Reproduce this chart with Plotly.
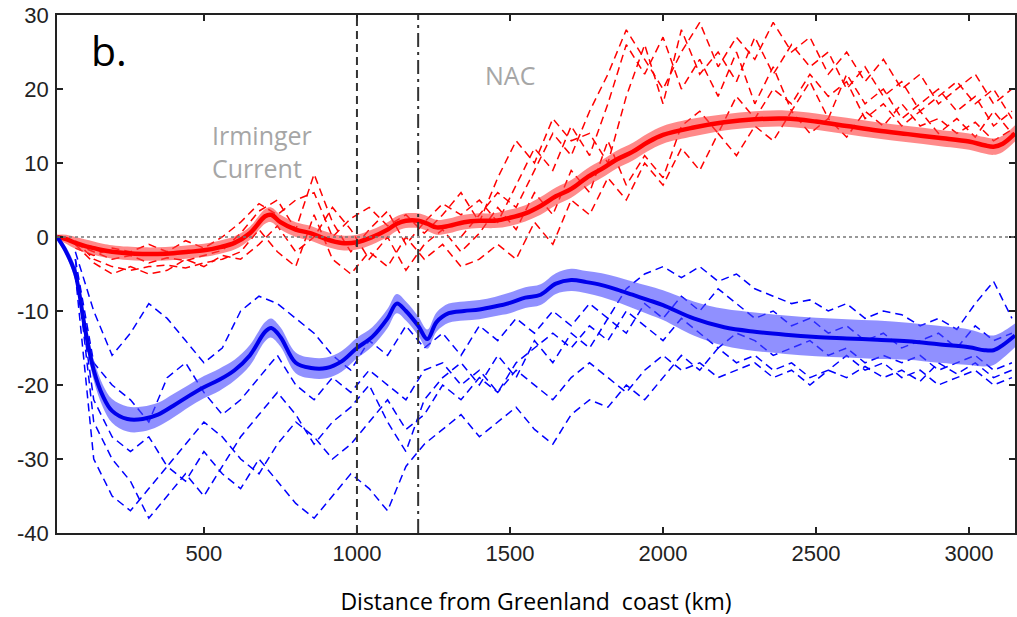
import plotly.graph_objects as go

# ---------------- data ----------------
x_mean = [20, 50, 80, 110, 140, 170, 200, 250, 300, 350, 400, 450, 500, 550, 600, 650, 700, 720, 750,
          800, 850, 900, 950, 1000, 1050, 1100, 1130, 1160, 1200, 1230, 1260, 1300, 1350, 1400, 1450,
          1500, 1550, 1600, 1650, 1700, 1750, 1800, 1850, 1900, 1950, 2000, 2100, 2200, 2300, 2400,
          2500, 2600, 2700, 2800, 2900, 3000, 3050, 3080, 3110, 3150]

red_mean = [0, -0.3, -0.8, -1.2, -1.5, -1.8, -2, -2.2, -2.3, -2.3, -2.2, -2, -1.8, -1.4, -0.8, 0.5,
            2.8, 3, 2, 1, 0.5, -0.3, -0.8, -0.7, 0, 1, 1.8, 2.2, 2.2, 1.8, 1.3, 1.5, 2, 2.2, 2.2,
            2.6, 3.2, 4.2, 5.5, 6.5, 8, 9.2, 10.5, 11.5, 12.8, 13.8, 14.8, 15.5, 15.9, 16,
            15.6, 15, 14.4, 13.9, 13.4, 12.9, 12.4, 12.2, 12.6, 14]
red_err = [0.3, 0.6, 0.8, 0.9, 0.9, 0.9, 0.9, 0.9, 0.9, 0.9, 0.9, 0.9, 0.9, 0.9, 0.9, 0.9,
           1.0, 1.0, 1.0, 1.0, 1.0, 1.0, 1.0, 1.0, 1.0, 1.0, 1.0, 1.0, 1.0, 1.0, 1.0, 1.0, 1.0, 1.0, 1.0,
           1.1, 1.1, 1.2, 1.2, 1.2, 1.2, 1.2, 1.2, 1.2, 1.2, 1.2, 1.2, 1.1, 1.1, 1.1,
           1.1, 1.1, 1.1, 1.1, 1.1, 1.1, 1.1, 1.1, 1.1, 1.1]

blue_mean = [0, -2, -5, -12, -18, -21.5, -23.5, -24.6, -24.6, -24, -22.8, -21.5, -20.3, -19.3, -18, -16,
             -12.8, -12.3, -13.5, -17, -17.7, -17.7, -16.8, -15, -13.5, -11, -9, -10, -12, -13.8, -11.5,
             -10.3, -10, -9.8, -9.4, -8.9, -8.2, -7.8, -6.3, -5.8, -6.1, -6.5, -7.1, -7.8, -8.5, -9.2,
             -11, -12.2, -12.8, -13.2, -13.5, -13.7, -13.9, -14.1, -14.5, -14.9, -15.3, -15.3, -14.6, -13.3]
blue_err = [0.3, 0.6, 0.9, 1.2, 1.4, 1.5, 1.6, 1.7, 1.7, 1.6, 1.6, 1.5, 1.5, 1.5, 1.4, 1.4,
            1.3, 1.3, 1.3, 1.4, 1.4, 1.4, 1.4, 1.4, 1.3, 1.3, 1.3, 1.3, 1.3, 1.3, 1.3,
            1.3, 1.3, 1.3, 1.3, 1.4, 1.4, 1.4, 1.4, 1.5, 1.5, 1.6, 1.7, 1.8, 1.9, 2.0,
            2.3, 2.5, 2.6, 2.6, 2.6, 2.6, 2.6, 2.5, 2.5, 2.4, 2.2, 2.0, 1.8, 1.6]

x_sec = [80, 140, 200, 260, 320, 380, 440, 500, 560, 620, 680, 740, 800, 860, 920, 980, 1040, 1100,
         1160, 1220, 1280, 1340, 1400, 1460, 1520, 1580, 1640, 1700, 1760, 1820, 1880, 1940, 2000,
         2060, 2120, 2180, 2240, 2300, 2360, 2420, 2480, 2540, 2600, 2660, 2720, 2780, 2840, 2900,
         2960, 3020, 3080, 3140]

red_sec_1 = [-1, -2, -3, -2.5, -3.5, -2.8, -3.2, -2.5, -1.8, 0.5, 3.5, 5, 1, 8.5, 2, -2, 1, 3.5,
             -1, 2, 4.5, 3, 5, 2, 7, 12, 9, 15, 11, 18, 26, 22, 27, 20, 24, 19, 25, 18, 23, 17, 21,
             16, 22, 18, 20, 16, 18, 20, 17, 19, 15, 17]
red_sec_2 = [-0.5, -3, -4, -4.5, -4, -3.8, -4.2, -3.5, -3, -2, 1, -2, -4, 3, -3, -5, -2, -4,
             0, -3, -1, -4, -3, -1, -3, 2, -1, 5, 3, 8, 5, 10, 7, 12, 9, 14, 11, 15, 13, 17, 14,
             16, 13.5, 17, 15, 18, 15, 16, 14, 15.5, 13, 14.5]
red_sec_3 = [-1.5, -2.5, -1.5, -2, -1, -2, -0.5, -1.5, 0, 2, 4.5, 3, 5, 6, 0, 2.5, 4, 1.5,
             3, 0.5, 3, 6, 2, 8, 13, 10, 16, 13, 14, 10, 19, 26, 18, 28, 22, 25, 21, 27, 22, 26, 23,
             25, 20, 23, 19, 21, 17, 19, 21, 18, 20, 16]
red_sec_4 = [-1, -3.5, -5, -4, -5, -4.5, -3, -4, -2.5, -3, -1, 1.5, -2, 0, 4, 1, -3, 0,
             -4.5, -1, 1, -2, 0.5, 4, 1, 6, 3, 9, 6, 13, 7, 11, 8, 15, 17, 14, 19, 16, 20, 18, 22,
             19, 21, 16, 18, 15, 17, 14, 16, 13.5, 17, 14]
red_sec_5 = [None, None, None, None, None, None, None, None, None, None, None, None, None, None, None,
             None, None, None, None, None, None, 0, 3, 6, 4, 9, 14, 11, 17, 22, 28, 24, 20, 25, 29,
             23, 27, 24, 29, 25, 27, 22, 25, 21, 24, 20, 22, 18, 20, 22, 18, 20]

blue_sec_1 = [-2, -10, -16, -13, -9, -11, -14, -17, -15, -10, -8, -9, -11, -13, -16, -18, -14, -16,
              -12, -15, -13, -16, -12, -14, -11, -13, -10, -12, -9, -11, -7, -5, -4, -5.5, -4, -6,
              -5, -7, -8, -9, -8.5, -10, -9, -11, -10, -10.5, -12, -11, -12.5, -9, -6, -11]
blue_sec_2 = [-3, -17, -20, -22, -25, -19, -17, -21, -24, -22, -19, -16, -20, -22, -19, -21, -18,
              -20, -22, -18, -17, -20, -18, -21, -17, -15, -13, -15, -12, -14, -10, -12, -14, -11,
              -13, -15, -13, -14, -16, -15, -14, -16, -15, -17, -16, -17, -16, -18, -17, -16, -18, -17]
blue_sec_3 = [-4, -22, -27, -29, -27, -31, -28, -25, -27, -30, -32, -28, -25, -27, -30, -28, -25,
              -22, -26, -24, -20, -22, -19, -21, -18, -20, -22, -19, -17, -19, -21, -18, -16, -18,
              -17, -19, -18, -17, -19, -18, -20, -18, -19, -17.5, -19, -18, -19.5, -17, -18.5, -17,
              -19, -18]
blue_sec_4 = [-5, -30, -35, -37, -34, -31, -33, -29, -32, -34, -30, -33, -36, -38, -35, -32, -34,
              -37, -31, -28, -26, -24, -27, -25, -23, -26, -28, -24, -22, -23, -20, -22, -19, -16,
              -18, -15, -17, -16, -18, -17, -19, -18, -16, -18, -17, -19, -18, -20, -19, -18, -20, -19]
blue_sec_5 = [-3, -25, -30, -33, -38, -35, -32, -35, -31, -27, -24, -21, -24, -28, -25, -23, -20,
              -25, -29, -22, -19, -17, -20, -16, -19, -14, -17, -13, -15, -11, -13, -9, -11, -8,
              -10, -7, -9, -11, -10, -12, -11, -13, -12, -14, -13, -15, -14, -13, -15, -12, -14, -13]

y_ticks = [-40, -30, -20, -10, 0, 10, 20, 30]
x_ticks = [500, 1000, 1500, 2000, 2500, 3000]
boundaries = [1000, 1200]

# ---------------- figure ----------------
fig = go.Figure()

RED_DASH = "rgb(255,0,0)"
BLUE_DASH = "rgb(0,0,255)"
for s in [red_sec_1, red_sec_2, red_sec_3, red_sec_4, red_sec_5]:
    fig.add_trace(go.Scatter(x=x_sec, y=s, mode="lines",
                             line=dict(color=RED_DASH, width=1.5, dash="8px,5px"),
                             connectgaps=False, hoverinfo="skip", showlegend=False))
for s in [blue_sec_1, blue_sec_2, blue_sec_3, blue_sec_4, blue_sec_5]:
    fig.add_trace(go.Scatter(x=x_sec, y=s, mode="lines",
                             line=dict(color=BLUE_DASH, width=1.5, dash="8px,5px"),
                             hoverinfo="skip", showlegend=False))


def band(mean, err, fillcol, linecol, lw):
    up = [m + e for m, e in zip(mean, err)]
    lo = [m - e for m, e in zip(mean, err)]
    fig.add_trace(go.Scatter(x=x_mean, y=up, mode="lines", line=dict(width=0, color=fillcol),
                             line_shape="spline", hoverinfo="skip", showlegend=False))
    fig.add_trace(go.Scatter(x=x_mean, y=lo, mode="lines", line=dict(width=0, color=fillcol),
                             fill="tonexty", fillcolor=fillcol, line_shape="spline",
                             hoverinfo="skip", showlegend=False))
    fig.add_trace(go.Scatter(x=x_mean, y=mean, mode="lines", line=dict(width=lw, color=linecol),
                             line_shape="spline", showlegend=False))


band(red_mean, red_err, "rgba(255,60,60,0.6)", "rgb(255,0,0)", 4.5)
band(blue_mean, blue_err, "rgba(70,70,255,0.6)", "rgb(0,0,235)", 4)

# zero line
fig.add_hline(y=0, line=dict(color="#777777", width=1.5, dash="dot"))
# boundaries
fig.add_vline(x=boundaries[0], line=dict(color="#333333", width=2, dash="8px,5px"))
fig.add_vline(x=boundaries[1], line=dict(color="#333333", width=2, dash="14px,5px,3px,5px"))

fig.add_annotation(x=125, y=25.3, text="b.", showarrow=False, xanchor="left", yanchor="middle",
                   font=dict(family="Open Sans", size=41, color="black"))
fig.add_annotation(x=520, y=11.5, text="Irminger<br>Current", showarrow=False, xanchor="left",
                   yanchor="middle", align="left",
                   font=dict(family="Open Sans", size=25, color="#a6a6a6"))
fig.add_annotation(x=1500, y=21.9, text="NAC", showarrow=False, xanchor="center", yanchor="middle",
                   font=dict(family="Open Sans", size=25, color="#a6a6a6"))

axis_common = dict(showline=True, linecolor="#222222", linewidth=1.5, mirror="ticks",
                   ticks="inside", ticklen=6, tickwidth=1.5, tickcolor="#222222",
                   showgrid=False, zeroline=False,
                   tickfont=dict(family="Liberation Sans", size=22, color="#222222"))

fig.update_layout(
    width=1017, height=617,
    margin=dict(l=57, r=0, t=15, b=84),
    paper_bgcolor="white", plot_bgcolor="white",
    xaxis=dict(range=[20, 3150], tickvals=x_ticks, ticktext=[str(v) for v in x_ticks],
               title=dict(text="Distance from Greenland\u00a0 coast (km)", standoff=29,
                          font=dict(family="Open Sans", size=23, color="black")),
               **axis_common),
    yaxis=dict(range=[-40, 30], tickvals=y_ticks, ticktext=[str(v) for v in y_ticks],
               ticklabelstandoff=2, **axis_common),
)

fig.write_html("out.html")
